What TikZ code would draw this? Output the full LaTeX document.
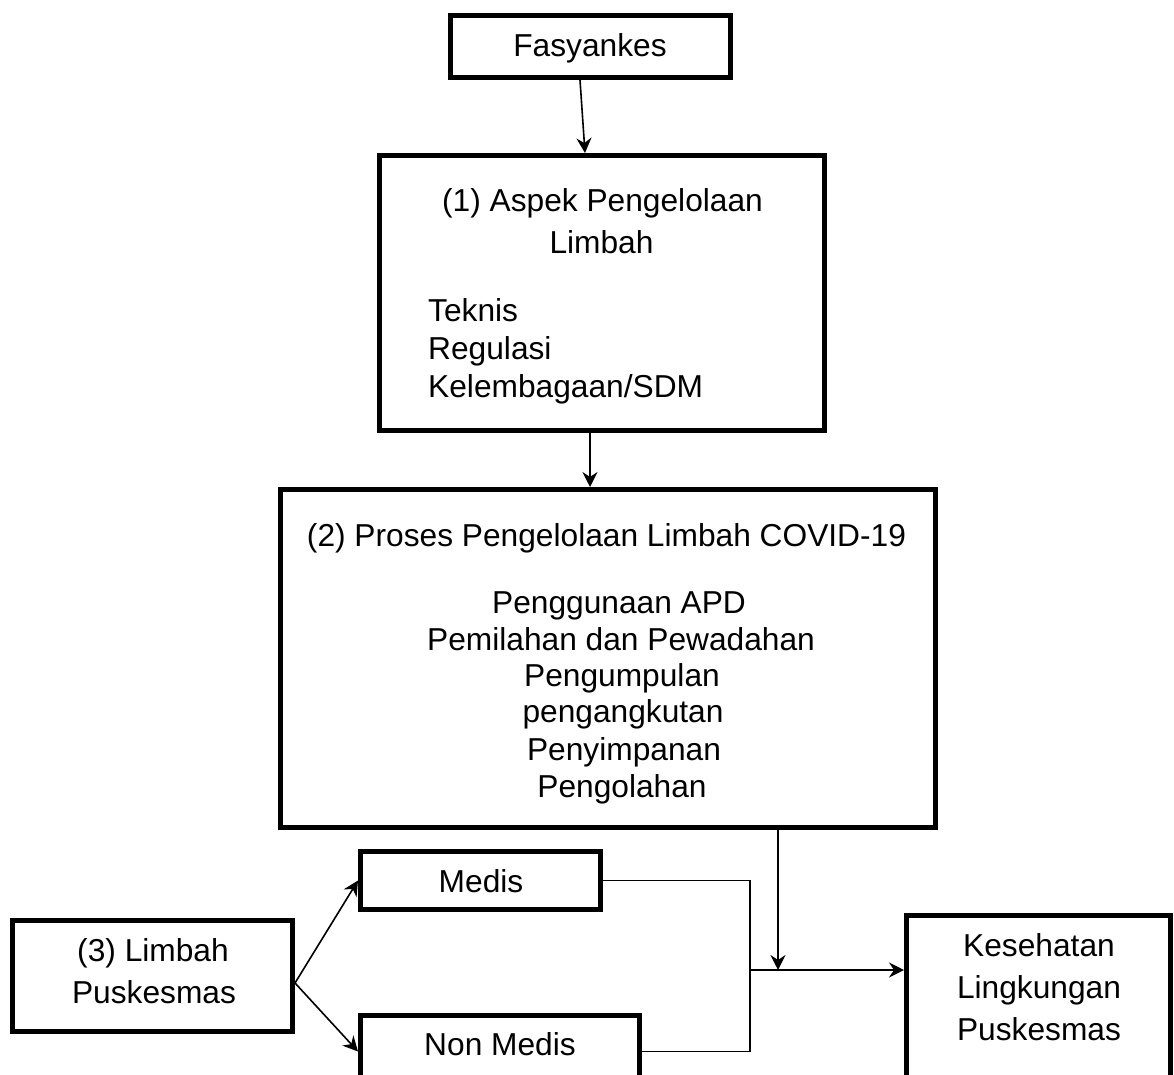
\documentclass[tikz,border=0pt]{standalone}
\usepackage{fontspec}
\setmainfont{Liberation Sans}
\usetikzlibrary{arrows.meta}
\begin{document}
\begin{tikzpicture}[x=1pt,y=-1pt,
  box/.style={draw=black,line width=5pt,inner sep=0pt,rectangle},
  txt/.style={inner sep=0pt,anchor=base,font=\fontsize{31.7}{36.5}\selectfont},
  txtl/.style={txt,anchor=base west},
  conn/.style={line width=1.6pt},
  arr/.style={conn,-{Stealth[length=15pt,width=15pt,inset=5pt]}}]
\path[use as bounding box] (0,0) rectangle (1174,1075);
\clip (0,0) rectangle (1174,1075);
\fill[white] (0,0) rectangle (1174,1075);
% boxes
\node[box,minimum width=280pt,minimum height=62pt] (fas) at (590.5,46.5) {};
\node[box,minimum width=445pt,minimum height=275pt] (asp) at (602,293) {};
\node[box,minimum width=655pt,minimum height=338pt] (pro) at (608,658.5) {};
\node[box,minimum width=240pt,minimum height=58pt] (med) at (480.5,880.5) {};
\node[box,minimum width=279pt,minimum height=72pt] (non) at (500,1051.5) {};
\node[box,minimum width=280pt,minimum height=111pt] (lim) at (152.5,976) {};
\node[box,minimum width=264pt,minimum height=192pt] (kes) at (1038.5,1011.5) {};
% texts
\node[txt] (tfas) at (590,57) {Fasyankes};
\node[txt] (ta1) at (602.5,212) {(1) Aspek Pengelolaan};
\node[txt] (ta2) at (601.5,254) {Limbah};
\node[txtl] (ta3) at (428,321) {Teknis};
\node[txtl] (ta4) at (428,359) {Regulasi};
\node[txtl] (ta5) at (428,397) {Kelembagaan/SDM};
\node[txt] (tp0) at (606.5,546) {(2) Proses Pengelolaan Limbah COVID-19};
\node[txt] (tp1) at (619,613) {Penggunaan APD};
\node[txt] (tp2) at (621,650) {Pemilahan dan Pewadahan};
\node[txt] (tp3) at (622,686) {Pengumpulan};
\node[txt] (tp4) at (623,722) {pengangkutan};
\node[txt] (tp5) at (624,760) {Penyimpanan};
\node[txt] (tp6) at (622,797) {Pengolahan};
\node[txt] (tmed) at (481,892) {Medis};
\node[txt] (tnon) at (500,1055) {Non Medis};
\node[txt] (tl1) at (153,961) {(3) Limbah};
\node[txt] (tl2) at (154,1003) {Puskesmas};
\node[txt] (tk1) at (1039,956) {Kesehatan};
\node[txt] (tk2) at (1039,998) {Lingkungan};
\node[txt] (tk3) at (1039,1040) {Puskesmas};
% connectors
\draw[arr] ([xshift=-10.5pt]fas.south) -- ([xshift=-17pt]asp.north);
\draw[arr] ([xshift=-12pt]asp.south) -- ([xshift=-18pt]pro.north);
\coordinate (j) at (750,970);
\coordinate (k) at (778,970);
\draw[conn] (med.east) -- (med.east -| j) -- (non.east -| j) -- (non.east);
\draw[arr] (j) -- (j -| kes.west);
\draw[arr] (pro.south -| k) -- (k);
\coordinate (ls) at ([yshift=-7pt]lim.east);
\draw[arr] (ls) -- (med.west);
\draw[arr] (ls) -- (non.west);
\end{tikzpicture}
\end{document}
